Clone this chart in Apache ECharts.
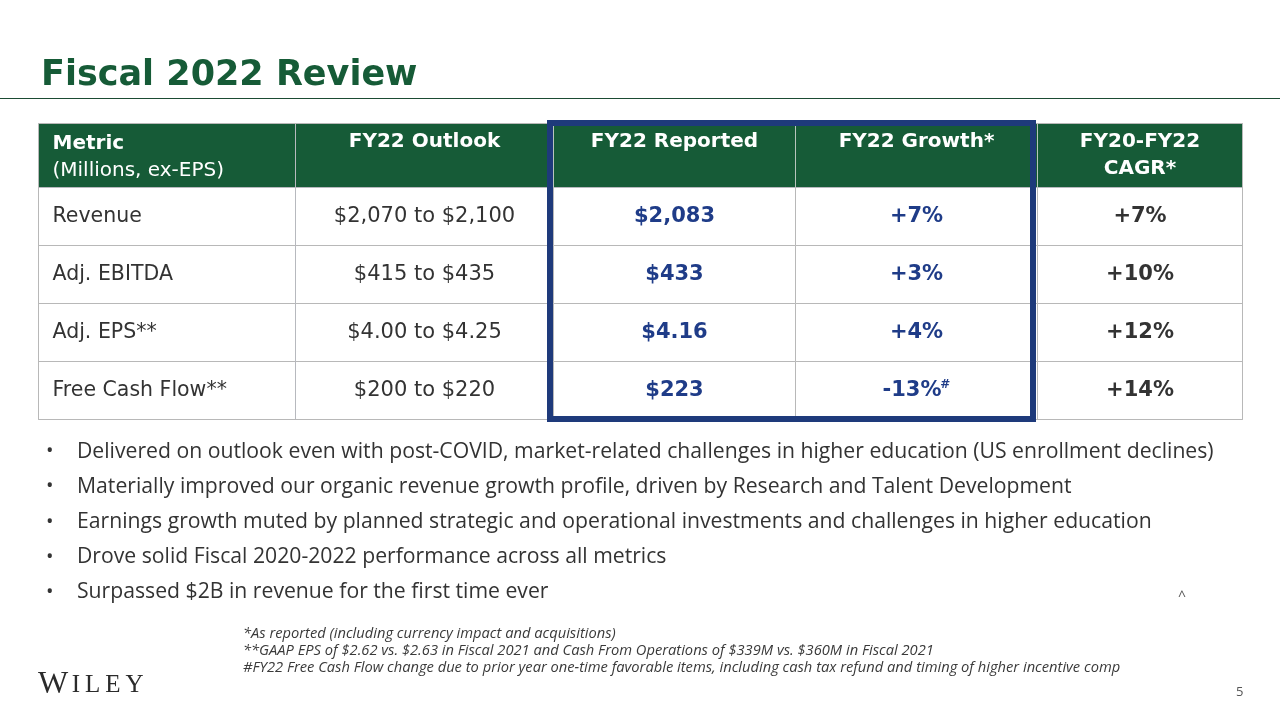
<!DOCTYPE html>
<html>
<head>
<meta charset="utf-8">
<script src="https://cdn.jsdelivr.net/npm/echarts@6/dist/echarts.min.js"></script>
<style>html,body{margin:0;padding:0;background:#fff;}#c{width:1280px;height:720px;}</style>
</head>
<body>
<div id="c"></div>
<script>
// ---- data ----
const cornerHeader = 'Metric';
const cornerSub = '(Millions, ex-EPS)';
const columns = ['FY22 Outlook', 'FY22 Reported', 'FY22 Growth*', 'FY20-FY22\nCAGR*'];
const metrics = ['Revenue', 'Adj. EBITDA', 'Adj. EPS**', 'Free Cash Flow**'];
const outlook = ['$2,070 to $2,100', '$415 to $435', '$4.00 to $4.25', '$200 to $220'];
const reported = ['$2,083', '$433', '$4.16', '$223'];
const growth = ['+7%', '+3%', '+4%', '-13%'];
const growthMarks = ['', '', '', '#'];
const cagr = ['+7%', '+10%', '+12%', '+14%'];
const bullets = [
  'Delivered on outlook even with post-COVID, market-related challenges in higher education (US enrollment declines)',
  'Materially improved our organic revenue growth profile, driven by Research and Talent Development',
  'Earnings growth muted by planned strategic and operational investments and challenges in higher education',
  'Drove solid Fiscal 2020-2022 performance across all metrics',
  'Surpassed $2B in revenue for the first time ever'
];
const footnotes = [
  '*As reported (including currency impact and acquisitions)',
  '**GAAP EPS of $2.62 vs. $2.63 in Fiscal 2021 and Cash From Operations of $339M vs. $360M in Fiscal 2021',
  '#FY22 Free Cash Flow change due to prior year one-time favorable items, including cash tax refund and timing of higher incentive comp'
];

// ---- styles / layout ----
const GREEN = '#165b37';
const NAVY = '#1f3c88';
const BOX = '#1e3a7b';
const TXT = '#333333';
const GRIDC = '#b8b8b8';
const F = '"DejaVu Sans", Verdana, sans-serif';
const colWidths = [258, 242, 242, 205];
const T_LEFT = 38, T_TOP = 123, HEAD_H = 64, ROW_H = 58, FIRST_W = 257;
const T_W = FIRST_W + colWidths.reduce((a, b) => a + b, 0);
const T_H = HEAD_H + ROW_H * metrics.length;

const colStyles = [
  { color: TXT, fontWeight: 'normal' },
  { color: NAVY, fontWeight: 'bold' },
  { color: NAVY, fontWeight: 'bold' },
  { color: TXT, fontWeight: 'bold' }
];
const colValues = [outlook, reported, growth, cagr];

const bodyData = [];
colValues.forEach((vals, c) => {
  vals.forEach((v, r) => {
    const st = colStyles[c];
    const item = { coord: [c, r], value: v };
    if (c === 2 && growthMarks[r]) {
      item.value = '{m|' + v + '}{s|' + growthMarks[r] + '}';
      item.label = {
        padding: [17, 0, 0, 0],
        rich: {
          m: { fontFamily: F, fontSize: 21, color: st.color, fontWeight: st.fontWeight, lineHeight: 25 },
          s: { fontFamily: F, fontSize: 12, color: st.color, fontWeight: st.fontWeight, verticalAlign: 'top', padding: [0, 0, 9, 1] }
        }
      };
    } else {
      item.label = { color: st.color, fontWeight: st.fontWeight };
    }
    bodyData.push(item);
  });
});

const chart = echarts.init(document.getElementById('c'));

const graphics = [];
// title rule
graphics.push({ type: 'line', shape: { x1: 0, y1: 98.5, x2: 1280, y2: 98.5 }, style: { stroke: '#1b4b33', lineWidth: 1 } });
// highlight box around reported + growth columns
const boxL = T_LEFT + FIRST_W + colWidths[0] - 3;
const boxR = T_LEFT + FIRST_W + colWidths[0] + colWidths[1] + colWidths[2] - 4;
graphics.push({ type: 'rect', z: 100, shape: { x: boxL, y: T_TOP, width: boxR - boxL, height: T_H }, style: { fill: 'none', stroke: BOX, lineWidth: 6 } });
// bullets
bullets.forEach((b, i) => {
  const y = 451.5 + i * 35.2;
  graphics.push({ type: 'text', x: 46, y: y, style: { text: '\u2022', font: '20px "Open Sans"', fill: TXT, verticalAlign: 'middle' } });
  graphics.push({ type: 'text', x: 77, y: y, style: { text: b, font: '21.2px "Open Sans"', fill: TXT, verticalAlign: 'middle' } });
});
graphics.push({ type: 'text', x: 1178, y: 597, style: { text: '^', font: '14px "Open Sans"', fill: '#555', verticalAlign: 'middle' } });
footnotes.forEach((f, i) => {
  graphics.push({ type: 'text', x: 243, y: 633.5 + i * 17, style: { text: f, font: 'italic 14.7px "Open Sans"', fill: '#3a3a3a', verticalAlign: 'middle' } });
});
graphics.push({ type: 'text', x: 38, y: 685, style: {
  text: '{w|W}{s|I}{s|L}{s|E}{s|Y}', verticalAlign: 'middle',
  rich: {
    w: { fontFamily: '"Liberation Serif", serif', fontSize: 32, fill: '#2b2b2b', padding: [0, 1, 0, 0] },
    s: { fontFamily: '"Liberation Serif", serif', fontSize: 25, fill: '#2b2b2b', padding: [0, 2.5, 0, 2.5] }
  } } });
graphics.push({ type: 'text', x: 1236, y: 692, style: { text: '5', font: '13px "Open Sans"', fill: '#555', verticalAlign: 'middle' } });

chart.setOption({
  backgroundColor: '#fff',
  animation: false,
  title: {
    text: 'Fiscal 2022 Review', left: 36, top: 53,
    textStyle: { fontFamily: F, fontSize: 35, fontWeight: 'bold', color: GREEN }
  },
  matrix: {
    left: T_LEFT, top: T_TOP, width: T_W, height: T_H,
    x: {
      data: columns.map((c, i) => ({ value: c.indexOf('\n') < 0 ? c + '\n\u00a0' : c, size: colWidths[i] })),
      levelSize: HEAD_H,
      levels: [{ levelSize: HEAD_H }],
      label: { color: '#fff', fontFamily: F, fontSize: 20, fontWeight: 'bold', lineHeight: 27, padding: [7, 0, 0, 0] },
      itemStyle: { color: GREEN, borderColor: '#b8c4bc', borderWidth: 1 }
    },
    y: {
      data: metrics.map(m => ({ value: m, size: ROW_H })),
      levelSize: FIRST_W,
      levels: [{ levelSize: FIRST_W }],
      label: { color: TXT, fontFamily: F, fontSize: 20.5, align: 'left', position: 'insideLeft', padding: [0, 0, 0, 14] },
      itemStyle: { color: '#fff', borderColor: GRIDC, borderWidth: 1 }
    },
    corner: {
      data: [{ coord: [-1, -1], value: '{b|' + cornerHeader + '}\n{n|' + cornerSub + '}' }],
      itemStyle: { color: GREEN, borderColor: '#b8c4bc', borderWidth: 1 },
      label: {
        align: 'left', position: 'insideLeft', padding: [7, 0, 0, 14],
        overflow: 'none',
        rich: {
          b: { fontFamily: F, fontSize: 20, fontWeight: 'bold', color: '#fff', lineHeight: 27 },
          n: { fontFamily: F, fontSize: 20, color: '#fff', lineHeight: 27 }
        }
      }
    },
    body: {
      data: bodyData,
      itemStyle: { color: '#fff', borderColor: GRIDC, borderWidth: 1 },
      label: { fontFamily: F, fontSize: 21, color: TXT }
    },
    backgroundStyle: { color: '#fff', borderColor: GRIDC, borderWidth: 1 }
  },
  graphic: graphics
});
</script>
</body>
</html>
